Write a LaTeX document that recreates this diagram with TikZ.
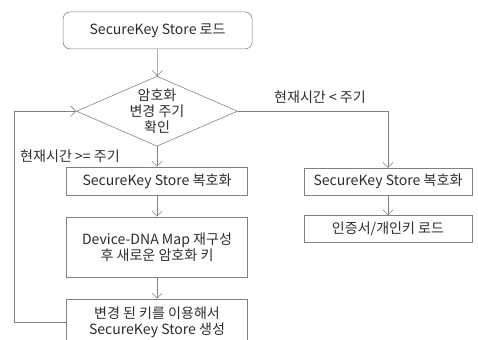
\documentclass[tikz,border=0pt]{standalone}
\usepackage{fontspec}
\setmainfont{Noto Sans CJK KR}
\definecolor{linegray}{RGB}{128,128,128}
\definecolor{textgray}{RGB}{45,45,45}
\usetikzlibrary{positioning, arrows.meta, shapes.geometric}

\begin{document}
\begin{tikzpicture}[
  box/.style={draw=linegray, thin, text=textgray, align=center, inner sep=1pt,
    minimum width=4.525cm, font=\fontsize{10}{11.6}\selectfont},
  startbox/.style={box, rounded corners=5pt, minimum width=4.725cm, minimum height=0.925cm},
  check/.style={draw=linegray, thin, diamond, aspect=2.3, inner sep=-5pt, text=textgray,
    align=center, minimum width=4.025cm, minimum height=1.75cm, font=\fontsize{10}{11.4}\selectfont},
  lbl/.style={text=textgray, font=\fontsize{10}{11}\selectfont, inner sep=0pt},
  arw/.style={-{Straight Barb[length=1.3mm, width=2.6mm]}, thin, linegray},
]
\clip (0,0) rectangle (11.95,-8.475);
% main column
\node[startbox] (load) at (3.94,-0.76) {SecureKey Store 로드};
\node[check] (chk) at (3.925,-2.78) {암호화\\변경 주기\\확인};
\node[box, minimum height=0.7cm] (dec) at (3.925,-4.525) {SecureKey Store 복호화};
\node[box, minimum height=1.5cm] (rebuild) at (3.925,-6.175) {Device-DNA Map 재구성\\후 새로운 암호화 키};
\node[box, minimum height=1.15cm] (gen) at (3.925,-8.05) {변경 된 키를 이용해서\\SecureKey Store 생성};
% right column
\node[box, minimum width=4.2cm, minimum height=0.675cm] (rdec) at (9.7,-4.54) {SecureKey Store 복호화};
\node[box, minimum width=4.2cm, minimum height=0.675cm] (cert) at (9.7,-5.725) {인증서/개인키 로드};
% branch labels
\node[lbl] (lt) at (8.0,-2.42) {현재시간 < 주기};
\node[lbl] (geq) at (1.75,-3.9) {현재시간 >= 주기};
\draw[arw] (load) -- (chk);
\draw[arw] (chk) -- (dec);
\draw[arw] (dec) -- (rebuild);
\draw[arw] (rebuild) -- (gen);
\draw[arw] (chk.east) -| (rdec.north);
\draw[arw] (rdec) -- (cert);
\draw[arw] (gen.west) -- ++(-1.3,0) |- (chk.west);
\end{tikzpicture}
\end{document}
